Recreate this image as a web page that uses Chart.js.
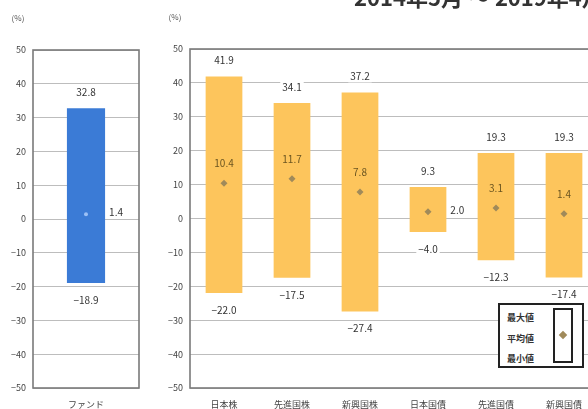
<!DOCTYPE html>
<html><head><meta charset="utf-8">
<script src="https://cdn.jsdelivr.net/npm/chart.js@4/dist/chart.umd.min.js"></script>
<style>
html,body{margin:0;padding:0;width:588px;height:409px;overflow:hidden;background:#fff;}
#wrap{position:relative;width:588px;height:409px;overflow:hidden;font-family:"Noto Sans CJK JP","Noto Sans",sans-serif;}
#c1{position:absolute;left:0;top:0;}
#c2{position:absolute;left:150px;top:0;}
#title{position:absolute;left:354px;top:-15px;font-size:22px;line-height:22px;font-weight:bold;color:#333;white-space:nowrap;}
#legend{position:absolute;left:498px;top:303px;width:86px;height:65px;box-sizing:border-box;border:2px solid #222;background:#fff;}
#legend .t{position:absolute;left:7px;font-size:9px;line-height:10px;color:#333;font-weight:bold;}
#legend .box{position:absolute;left:53px;top:3px;width:20px;height:55px;box-sizing:border-box;border:2px solid #222;}
#legend .dia{position:absolute;left:5px;top:22px;width:6px;height:6px;background:#a08a5a;transform:rotate(45deg);}
</style></head>
<body><div id="wrap">
<canvas id="c1" width="150" height="409"></canvas>
<canvas id="c2" width="460" height="409"></canvas>
<div id="title">2014年5月 ～ 2019年4月</div>
<div id="legend">
  <span class="t" style="top:8px">最大値</span>
  <span class="t" style="top:29px">平均値</span>
  <span class="t" style="top:49px">最小値</span>
  <div class="box"><div class="dia"></div></div>
</div>
</div>
<script>
const fundCategories = ['ファンド'];
const fundMax = [32.8];
const fundAvg = [1.4];
const fundMin = [-18.9];

const assetCategories = ['日本株','先進国株','新興国株','日本国債','先進国債','新興国債'];
const assetMax = [41.9, 34.1, 37.2, 9.3, 19.3, 19.3];
const assetAvg = [10.4, 11.7, 7.8, 2.0, 3.1, 1.4];
const assetMin = [-22.0, -17.5, -27.4, -4.0, -12.3, -17.4];

const yMin = -50, yMax = 50, yStep = 10;

const FONT = '"Noto Sans CJK JP","Noto Sans",sans-serif';

function fmt(v){ return v.toFixed(1).replace('-', '−'); }

function makeChart(id, cats, max, min, avg, o){
  const labelPlugin = {
    id: 'labels' + id,
    afterDatasetsDraw(chart){
      const ctx = chart.ctx, ys = chart.scales.y, meta = chart.getDatasetMeta(0);
      const ca = chart.chartArea;
      ctx.save();
      ctx.strokeStyle = '#7a7a7a'; ctx.lineWidth = 1.6;
      ctx.strokeRect(ca.left, ca.top, ca.right - ca.left, ca.bottom - ca.top);
      ctx.font = '10px ' + FONT;
      ctx.textBaseline = 'middle';
      cats.forEach((c, i) => {
        const bar = meta.data[i];
        const x = bar.x, half = bar.width / 2;
        const put = (txt, tx, ty, align, color, bg) => {
          ctx.textAlign = align;
          const w = ctx.measureText(txt).width;
          if (bg) {
            ctx.fillStyle = '#fff';
            const lx = align === 'center' ? tx - w/2 - 2 : tx - 2;
            ctx.fillRect(lx, ty - 6, w + 4, 12);
          }
          ctx.fillStyle = color;
          ctx.fillText(txt, tx, ty);
        };
        put(fmt(max[i]), x, ys.getPixelForValue(max[i]) - 16, 'center', '#333', true);
        put(fmt(min[i]), x, ys.getPixelForValue(min[i]) + 17, 'center', '#333', true);
        const ay = ys.getPixelForValue(avg[i]);
        if (o.avgRight[i]) put(fmt(avg[i]), x + half + 4, ay - 2, 'left', '#333', true);
        else put(fmt(avg[i]), x, ay - 20, 'center', o.avgColor, false);
      });
      ctx.font = '8px ' + FONT;
      ctx.fillStyle = '#555'; ctx.textAlign = 'center';
      ctx.fillText('(%)', ca.left - 15, ca.top - 32);
      ctx.restore();
    }
  };
  return new Chart(document.getElementById(id), {
    type: 'bar',
    data: {
      labels: cats,
      datasets: [
        { type: 'bar', data: cats.map((c, i) => [min[i], max[i]]), backgroundColor: o.barColor,
          barPercentage: o.barPct, categoryPercentage: 1, borderWidth: 0, order: 2 },
        { type: 'line', data: avg, showLine: false, pointStyle: o.pointStyle, pointRadius: o.pointRadius,
          pointBackgroundColor: o.pointColor, pointBorderWidth: 0, order: 1 }
      ]
    },
    options: {
      responsive: false, animation: false, devicePixelRatio: 1,
      layout: { padding: { top: o.top, right: o.padRight, left: 0, bottom: 0 } },
      plugins: { legend: { display: false }, tooltip: { enabled: false } },
      scales: {
        x: { grid: { display: false }, border: { display: false },
             ticks: { color: '#444', font: { size: 9, family: FONT }, padding: 3, maxRotation: 0, autoSkip: false },
             afterFit(s){ s.height = 21; } },
        y: { min: yMin, max: yMax, ticks: { stepSize: yStep, color: '#444', font: { size: 9, family: FONT }, padding: 7,
               callback: v => String(v).replace('-', '−') },
             grid: { color: '#bdbdbd', lineWidth: 1, drawTicks: false }, border: { display: false },
             afterFit(s){ s.width = o.yWidth; } }
      }
    },
    plugins: [labelPlugin]
  });
}

makeChart('c1', fundCategories, fundMax, fundMin, fundAvg, {
  barColor: '#3b7bd6', barPct: 0.36, pointStyle: 'circle', pointRadius: 2, pointColor: '#9cc0f5',
  avgRight: [true], avgColor: '#333', top: 50, padRight: 11, yWidth: 33
});
makeChart('c2', assetCategories, assetMax, assetMin, assetAvg, {
  barColor: '#fdc55c', barPct: 0.54, pointStyle: 'rectRot', pointRadius: 3.5, pointColor: '#a08a5a',
  avgRight: [false, false, false, true, false, false], avgColor: '#6b5520', top: 49, padRight: 12, yWidth: 40
});
</script>
</body></html>
